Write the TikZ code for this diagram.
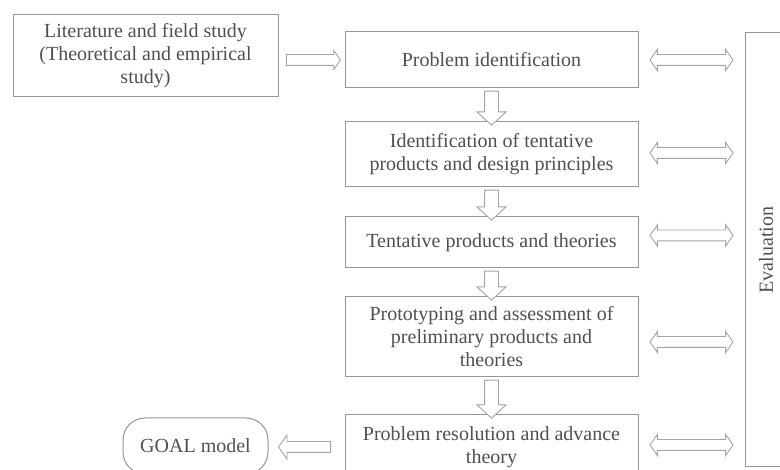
\documentclass[tikz,border=0pt]{standalone}
\usepackage{fontspec}
\setmainfont{Liberation Serif}
\usetikzlibrary{shapes.arrows,calc}
\definecolor{linegray}{RGB}{150,150,150}
\definecolor{arrowgray}{RGB}{165,165,165}
\definecolor{textgray}{RGB}{80,80,80}
\begin{document}
\begin{tikzpicture}[x=1pt,y=-1pt,
  txt/.style={text=textgray, font=\fontsize{20}{23}\selectfont},
  box/.style={txt, draw=linegray, line width=1pt, fill=white, align=center, inner sep=0pt, minimum width=293pt},
  harrowd/.style={double arrow, draw=arrowgray, fill=white, line width=0.9pt, inner xsep=0pt, inner ysep=5pt,
    minimum height=83pt, double arrow head extend=5pt, double arrow tip angle=110},
  darrow/.style={single arrow, shape border rotate=270, draw=arrowgray, fill=white, line width=0.9pt, inner sep=6.5pt,
    single arrow head extend=7.5pt, single arrow tip angle=95},
  sarrow/.style={single arrow, draw=arrowgray, fill=white, line width=0.9pt, inner xsep=0pt, inner ysep=5pt,
    single arrow head extend=4pt, single arrow tip angle=110},
]
\useasboundingbox (0,0) rectangle (780,470);
\fill[white] (0,0) rectangle (780,470);
\clip (0,0) rectangle (780,470);

\node[box, minimum width=265pt, minimum height=82pt] (lit) at (145.5,56)
  {Literature and field study\\(Theoretical and empirical\\study)};
\node[box, minimum height=56pt] (p1) at (491.5,60) {Problem identification};
\node[box, minimum height=65pt] (p2) at (491.5,154.5)
  {Identification of tentative\\products and design principles};
\node[box, minimum height=51pt] (p3) at (491.5,242.5) {Tentative products and theories};
\node[box, minimum height=80pt] (p4) at (491.5,337)
  {Prototyping and assessment of\\preliminary products and\\theories};
\node[box, minimum height=64pt] (p5) at (491.5,447)
  {Problem resolution and advance\\theory};
\node[box, minimum width=145pt, minimum height=56pt, rounded corners=22pt] (goal) at (195.5,446) {GOAL model};
\node[box, minimum width=42pt, minimum height=434pt] (ev) at (766,250) {};
\node[txt, rotate=90] (evt) at (ev.center) {Evaluation};

% left input arrow and output arrow
\path (p1.west -| lit.east) -- (p1.west) node[midway, sarrow, minimum height=54pt] {};
\path (p5.west) -- (p5.west -| goal.east) node[midway, sarrow, shape border rotate=180, inner sep=5pt, minimum height=52pt, single arrow head extend=6.5pt] {};

% vertical flow arrows
\path (p1.south) -- (p2.north) node[midway, darrow, minimum height=34pt] {};
\path (p2.south) -- (p3.north) node[midway, darrow, minimum height=30pt] {};
\path (p3.south) -- (p4.north) node[midway, darrow, minimum height=29pt] {};
\path (p4.south) -- (p5.north) node[midway, darrow, minimum height=38pt] {};

% evaluation arrows
\path (p1.east) -- (p1.east -| ev.west) node[midway, harrowd] {};
\path (p2.east) -- (p2.east -| ev.west) node[midway, harrowd, yshift=1.5pt] {};
\path (p3.east) -- (p3.east -| ev.west) node[midway, harrowd, yshift=7pt] {};
\path (p4.east) -- (p4.east -| ev.west) node[midway, harrowd, yshift=-5pt] {};
\path (p5.east) -- (p5.east -| ev.west) node[midway, harrowd, yshift=2pt] {};
\end{tikzpicture}
\end{document}
